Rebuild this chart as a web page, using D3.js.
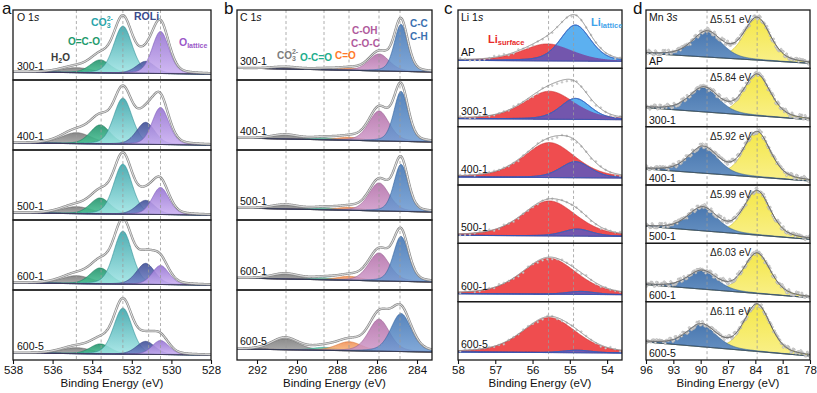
<!DOCTYPE html>
<html><head><meta charset="utf-8">
<script src="https://cdn.jsdelivr.net/npm/d3@7"></script>
<style>body{margin:0;background:#fff}svg{display:block;font-family:Arial,"Liberation Sans",sans-serif}</style>
</head><body><svg id="c" width="817" height="393"></svg>
<script>
// ---------- DATA ----------
// Panel a: O 1s
const aSamples=["300-1","400-1","500-1","600-1","600-5"];
const aComponents=["H2O","O=C-O","CO3","ROLi","Olattice"];
const aCenters=[534.8,533.6,532.45,531.3,530.55];
const aHWHM=[0.9,0.6,0.55,0.55,0.5];
const aHeights=[[5,13,47,12,42],[11,19,46,22,37],[7,16,50,14,27],[8,16,53,21,19],[6,10,46,13,14]];
const aBaseline=[[8,6],[7,5],[7,5],[7,5],[7,5]];
const aDashes=[534.8,533.55,532.45,531.15,530.55];
const aTicks=[538,536,534,532,530,528];
// Panel b: C 1s
const bSamples=["300-1","400-1","500-1","600-1","600-5"];
const bComponents=["CO3","O-C=O","C=O","C-OH","C-C"];
const bCenters=[290.6,288.65,287.4,285.9,284.8];
const bHWHM=[[0.8,0.7,0.7,0.6,0.4],[0.8,0.7,0.7,0.6,0.42],[0.8,0.7,0.7,0.6,0.42],[0.8,0.7,0.7,0.62,0.45],[0.8,0.7,0.75,0.62,0.6]];
const bHeights=[[2,1,2,17,47],[4,2,3,30,50],[4,2,3,28,47],[5,2,4,28,45],[11,3,9,32,38]];
const bBaseline=[[12,8],[12,8],[12,8],[12,8],[11,8]];
const bDashes=[290.55,288.65,287.4,285.9,284.85];
const bTicks=[292,290,288,286,284];
// Panel c: Li 1s
const cSamples=["AP","300-1","400-1","500-1","600-1","600-5"];
const cComponents=["Li surface","Li lattice"];
const cCenters=[[55.6,54.85],[55.55,54.85],[55.55,54.85],[55.55,54.8],[55.55,54.7],[55.55,54.8]];
const cHWHM=[[0.8,0.48],[0.8,0.48],[0.82,0.48],[0.85,0.45],[0.87,0.45],[0.85,0.45]];
const cHeights=[[17,36],[28,21],[35,16],[35,7],[36,3],[35,2.5]];
const cBaseline=[[8,7],[8,7],[8,7],[8,7],[8,7],[8,7]];
const cDashes=[55.57,54.9];
const cTicks=[58,57,56,55,54];
// Panel d: Mn 3s
const dSamples=["AP","300-1","400-1","500-1","600-1","600-5"];
const dSplit=[5.51,5.84,5.92,5.99,6.03,6.11];
const dYellowCenter=83.8;
const dHWHM=[1.9,1.7];
const dHeights=[[25,42],[24,41],[26,45],[23,44],[18,40],[22,47]];
const dBaseline=[[15,5],[19,7],[16,4],[17,4],[17,4],[18,4]];
const dDashes=[89.3,83.8];
const dTicks=[96,93,90,87,84,81,78];
// hand-read scatter of raw data points around the fit (relative)
const noise=[0.3,-0.8,0.5,1,-0.2,-0.6,0.9,-1,0.1,0.7,-0.4,0.2,-0.9,0.6,-0.1,0.8,-0.5,0.4,-0.7,0,0.95,-0.3,-0.85,0.55,0.15,-0.65,0.75,-0.15,0.35,-0.95,0.65,-0.45,0.05,0.85,-0.75,0.25,-0.25,0.45,-0.55,0.9,-0.05,-0.9,0.6,0.1,-0.35,0.7,-0.6,0.2,-0.8,0.4,0.5,-0.2,0.85,-0.7];

// ---------- DRAWING ----------
const svg=d3.select("#c");
const defs=svg.append("defs");
function pv(x,c,w,eta){const t=(x-c)/w;return (1-eta)*Math.exp(-Math.LN2*t*t)+eta/(1+t*t);}
let gid=0;
function grad(top,bot){const id="g"+(gid++);const lg=defs.append("linearGradient").attr("id",id).attr("x1",0).attr("y1",0).attr("x2",0).attr("y2",1);
 lg.append("stop").attr("offset","0%").attr("stop-color",top);lg.append("stop").attr("offset","100%").attr("stop-color",bot);return `url(#${id})`;}

const TOP=10,BOTTOM=360;
function drawPanel(cfg){
 const x=d3.scaleLinear().domain(cfg.domain).range([cfg.x0,cfg.x1]);
 const n=cfg.samples.length, sh=(BOTTOM-TOP)/n;
 const lo=Math.min(...cfg.domain),hi=Math.max(...cfg.domain);
 const es=d3.range(lo,hi+cfg.step/2,cfg.step);
 const g=svg.append("g");
 cfg.samples.forEach((s,i)=>{
  const yt=TOP+i*sh,yb=yt+sh;
  const y=d3.scaleLinear().domain([0,sh]).range([yb,yt]);
  const clipId=cfg.id+"clip"+i;
  defs.append("clipPath").attr("id",clipId).append("rect").attr("x",cfg.x0).attr("y",yt).attr("width",cfg.x1-cfg.x0).attr("height",sh);
  const sg=g.append("g").attr("clip-path",`url(#${clipId})`);
  const [bl,br]=cfg.baseline[i];
  const base=e=>bl+(br-bl)*(x(e)-cfg.x0)/(cfg.x1-cfg.x0);
  const comps=cfg.heights[i].map((h,k)=>e=>h*pv(e,cfg.center(i,k),cfg.hw(i,k),cfg.eta));
  const sum=e=>comps.reduce((a,f)=>a+f(e),0);
  const area=f=>d3.area().x(e=>x(e)).y0(e=>y(base(e))).y1(e=>y(base(e)+f(e)))(es);
  cfg.order.forEach(k=>{
   sg.append("path").attr("d",area(comps[k])).attr("fill",cfg.fills[k]).attr("fill-opacity",cfg.opac)
     .attr("stroke",cfg.strokes[k]).attr("stroke-width",0.6);
  });
  if(cfg.overlap){
   sg.append("path").attr("d",area(e=>Math.min(comps[0](e),comps[1](e)))).attr("fill",cfg.overlap);
   sg.append("path").attr("d",d3.line().x(e=>x(e)).y(e=>y(base(e)+comps[1](e)))(es)).attr("fill","none").attr("stroke",cfg.strokes[1]).attr("stroke-width",0.9);
  }
  // dashed guide lines
  cfg.dashes.forEach(d=>sg.append("line").attr("x1",x(d)).attr("x2",x(d)).attr("y1",yt).attr("y2",yb)
     .attr("stroke","#9a9a9a").attr("stroke-width",0.8).attr("stroke-dasharray","3,2.5"));
  // baseline
  sg.append("path").attr("d",d3.line().x(e=>x(e)).y(e=>y(base(e)))(es)).attr("fill","none").attr("stroke",cfg.baseColor).attr("stroke-width",1);
  // data points
  if(cfg.pts){
   const pe=d3.range(lo+0.05,hi,cfg.pts.step);
   sg.append("g").selectAll("circle").data(pe).join("circle")
    .attr("cx",e=>x(e)).attr("cy",(e,j)=>y(base(e)+sum(e)+cfg.pts.amp*noise[(j*7+i*11)%noise.length]))
    .attr("r",cfg.pts.r).attr("fill",cfg.pts.fill).attr("stroke",cfg.pts.stroke).attr("stroke-width",0.5);
  }
  // envelope
  const envPath=d3.line().x(e=>x(e)).y(e=>y(base(e)+cfg.envScale*sum(e)))(es);
  if(cfg.hollow){
   sg.append("path").attr("d",envPath).attr("fill","none").attr("stroke","#8a8a8a").attr("stroke-width",2.4);
   sg.append("path").attr("d",envPath).attr("fill","none").attr("stroke","#fff").attr("stroke-width",0.9);
  } else {
   sg.append("path").attr("d",envPath).attr("fill","none").attr("stroke",cfg.envColor).attr("stroke-width",1);
  }
  // frame
  g.append("rect").attr("x",cfg.x0).attr("y",yt).attr("width",cfg.x1-cfg.x0).attr("height",sh)
   .attr("fill","none").attr("stroke","#1a1a1a").attr("stroke-width",1.3);
  // sample label
  g.append("text").attr("x",cfg.labelX).attr("y",yb-cfg.labelDy).attr("font-size",10.5).attr("fill","#111").text(s);
  if(cfg.extra) cfg.extra(g,i,yt,yb,x);
 });
 // axis
 const ax=g.append("g").attr("transform",`translate(0,${BOTTOM})`)
  .call(d3.axisBottom(x).tickValues(cfg.ticks).tickSize(4).tickPadding(2).tickFormat(d3.format("d")));
 ax.select(".domain").remove();
 ax.selectAll("text").attr("font-size",11.5).attr("fill","#111").attr("font-family","Arial,'Liberation Sans',sans-serif");
 ax.selectAll("line").attr("stroke","#111").attr("stroke-width",1.1);
 g.append("text").attr("x",(cfg.x0+cfg.x1)/2).attr("y",387).attr("text-anchor","middle").attr("font-size",11.5).attr("fill","#111").text("Binding Energy (eV)");
 g.append("text").attr("x",cfg.letterX).attr("y",14).attr("font-size",17).attr("fill","#111").text(cfg.letter);
 g.append("text").attr("x",cfg.labelX).attr("y",21).attr("font-size",10.5).attr("fill","#111")
  .call(t=>{t.append("tspan").text(cfg.core);t.append("tspan").attr("font-style","italic").text(cfg.orb);});
 return x;
}

// Panel a
drawPanel({id:"a",letter:"a",letterX:2,core:"O 1",orb:"s",x0:13,x1:211,domain:[538,528],ticks:aTicks,samples:aSamples,
 center:(i,k)=>aCenters[k],hw:(i,k)=>aHWHM[k],heights:aHeights,baseline:aBaseline,eta:0.25,step:0.02,envScale:1.15,
 order:[0,1,2,3,4],opac:0.88,
 fills:[grad("#777","#a8a8a8"),grad("#1d8f68","#48c495"),grad("#38a3a8","#a2e6e6"),grad("#3a4a94","#7383c8"),grad("#9370d0","#cbb0f2")],
 strokes:["#666","#1b7c5a","#2e8d93","#2f3c7c","#7a58b8"],
 dashes:aDashes,baseColor:"#2b2b3a",hollow:true,labelX:17,labelDy:10});
// Panel b
drawPanel({id:"b",letter:"b",letterX:224,core:"C 1",orb:"s",x0:237,x1:432,domain:[293,283.25],ticks:bTicks,samples:bSamples,
 center:(i,k)=>bCenters[k],hw:(i,k)=>bHWHM[i][k],heights:bHeights,baseline:bBaseline,eta:0.3,step:0.02,envScale:1.08,
 order:[0,1,2,3,4],opac:0.85,
 fills:[grad("#777","#a0a0a0"),grad("#3cc0b0","#c8e070"),grad("#f08a50","#f8b878"),grad("#b06aa6","#cf98c8"),grad("#3a6fb0","#6c9ad2")],
 strokes:["#666","#30a090","#d87030","#955a8e","#2f5e98"],
 dashes:bDashes,baseColor:"#2b2b3a",hollow:true,labelX:240,labelDy:15});
// Panel c
drawPanel({id:"c",letter:"c",letterX:444,core:"Li 1",orb:"s",x0:458,x1:622,domain:[58,53.6],ticks:cTicks,samples:cSamples,
 center:(i,k)=>cCenters[i][k],hw:(i,k)=>cHWHM[i][k],heights:cHeights,baseline:cBaseline,eta:0.35,step:0.01,envScale:1.02,
 order:[0,1],opac:1,fills:["#ef4d4f","#5cb0f0"],strokes:["#c83838","#2f5fc0"],overlap:"#7356ad",
 dashes:cDashes,baseColor:"#3352b0",hollow:false,envColor:"#8c8c8c",labelX:461,labelDy:12,
 pts:{step:0.13,amp:1.5,r:0.9,fill:"#d0d0d0",stroke:"#b4b4b4"}});
// Panel d
drawPanel({id:"d",letter:"d",letterX:633,core:"Mn 3",orb:"s",x0:646,x1:810,domain:[96,78],ticks:dTicks,samples:dSamples,
 center:(i,k)=>k===0?dYellowCenter+dSplit[i]:dYellowCenter,hw:(i,k)=>dHWHM[k],heights:dHeights,baseline:dBaseline,eta:0.35,step:0.05,envScale:1,
 order:[1,0],opac:1,fills:[grad("#4a78b0","#6a94c4"),grad("#f4e74a","#f9f08a")],strokes:["#36608f","#c8bc30"],
 dashes:dDashes,baseColor:"#34465e",hollow:false,envColor:"#555",labelX:649,labelDy:3,
 pts:{step:0.12,amp:2.4,r:1.1,fill:"#d8d8d8",stroke:"#a4a4a4"},
 extra:(g,i,yt)=>g.append("text").attr("x",710).attr("y",yt+13).attr("font-size",10).attr("fill","#222").text("Δ"+dSplit[i].toFixed(2)+" eV")});

// ---------- component labels ----------
function lab(x,y,parts,color,size){
 const t=svg.append("text").attr("x",x).attr("y",y).attr("fill",color).attr("font-weight","bold").attr("font-size",size);
 parts.forEach(p=>{const ts=t.append("tspan").text(p.t);if(p.dy)ts.attr("dy",p.dy);if(p.s)ts.attr("font-size",p.s);if(p.dx)ts.attr("dx",p.dx);});
}
lab(51,61,[{t:"H"},{t:"2",s:7,dy:2},{t:"O",dy:-2}],"#3a3a3a",10);
lab(68,45,[{t:"O=C-O"}],"#1e9a6c",10);
lab(91,26,[{t:"CO"},{t:"3",s:7,dy:2},{t:"2-",s:7,dy:-7,dx:-4}],"#2aa4aa",10.5);
lab(134,20,[{t:"ROLi"}],"#3a4a8c",10.5);
lab(179,46,[{t:"O"},{t:"lattice",s:7,dy:2}],"#9a58c8",10.5);
lab(277,59,[{t:"CO"},{t:"3",s:7,dy:2},{t:"2-",s:7,dy:-7,dx:-4}],"#7c7c7c",10);
lab(300,61,[{t:"O-C=O"}],"#22ad8c",10);
lab(335,59,[{t:"C=O"}],"#ff7a28",10);
lab(352,34,[{t:"C-OH"}],"#b05a9c",10);
lab(351,47,[{t:"C-O-C"}],"#b05a9c",10);
lab(410,27,[{t:"C-C"}],"#3a70b0",10);
lab(410,40,[{t:"C-H"}],"#3a70b0",10);
lab(488,43,[{t:"Li"},{t:"surface",s:7.5,dy:2}],"#e82a2a",11);
lab(591,26,[{t:"Li"},{t:"lattice",s:7.5,dy:2}],"#3ea2ea",11);
</script></body></html>
